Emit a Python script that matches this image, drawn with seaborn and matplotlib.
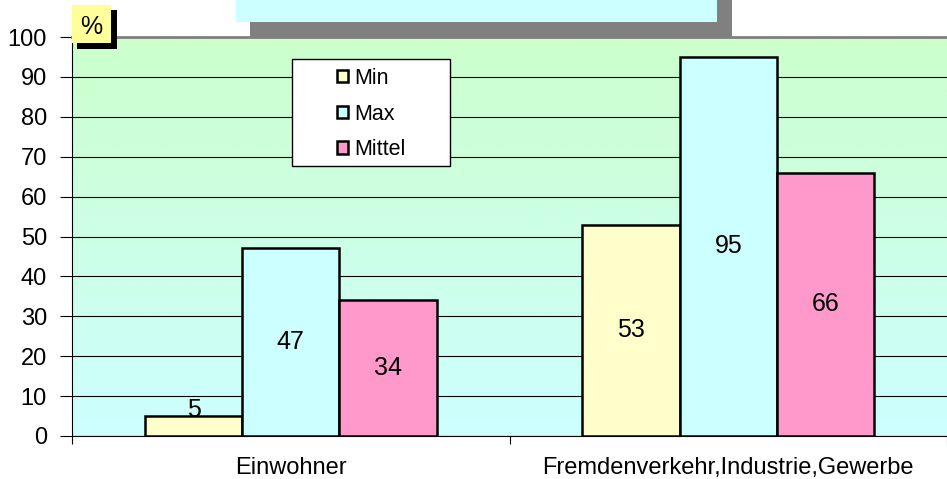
import matplotlib
matplotlib.use("Agg")
import matplotlib.pyplot as plt
import numpy as np
import pandas as pd
import seaborn as sns
from matplotlib.patches import Rectangle

# data
categories = ["Einwohner", "Fremdenverkehr,Industrie,Gewerbe"]
series = ["Min", "Max", "Mittel"]
min_vals = [5, 53]
max_vals = [47, 95]
mittel_vals = [34, 66]
colors = ["#FFFFCC", "#CCFFFF", "#FF99CC"]

df = pd.DataFrame({
    "Kategorie": categories * 3,
    "Serie": ["Min"] * 2 + ["Max"] * 2 + ["Mittel"] * 2,
    "Wert": min_vals + max_vals + mittel_vals,
})

sns.set_style("white")
plt.rcParams["font.family"] = ["Liberation Sans", "DejaVu Sans"]
plt.rcParams["text.color"] = "black"
plt.rcParams["xtick.color"] = "black"
plt.rcParams["ytick.color"] = "black"

fig = plt.figure(figsize=(9.47, 4.79), dpi=100)
ax = fig.add_axes([72 / 947, 43 / 479, 875 / 947, 399 / 479])

# gradient background green -> cyan
grad = np.linspace(0, 1, 256).reshape(-1, 1)
top = np.array([0xCC, 0xFF, 0xCC]) / 255
bot = np.array([0xCC, 0xFF, 0xFF]) / 255
img = top + (bot - top) * grad[:, :, None]
ax.imshow(img, extent=[-0.5, 1.5, 0, 100], aspect="auto", zorder=0)

sns.barplot(data=df, x="Kategorie", y="Wert", hue="Serie", hue_order=series,
            palette=colors, width=0.667, edgecolor="black", linewidth=1.8,
            saturation=1, ax=ax, zorder=3, legend=False)

ax.set_xlim(-0.5, 1.5)
ax.set_ylim(0, 100)
ax.set_yticks(range(0, 101, 10))
ax.yaxis.grid(True, color="black", linewidth=0.8)
for gl in ax.get_ygridlines():
    gl.set_zorder(1)
ax.set_xlabel("")
ax.set_ylabel("")

ax.tick_params(axis="y", left=True, length=9, width=0.8,
               labelsize=17, pad=9)
ax.tick_params(axis="x", which="major", length=0, labelsize=17, pad=15)
ax.set_xticks([-0.5, 0.5, 1.5], minor=True)
ax.tick_params(axis="x", which="minor", bottom=True, length=6, width=0.8)

ax.spines["right"].set_visible(False)
ax.spines["top"].set_color("#808080")
ax.spines["top"].set_linewidth(2)
ax.spines["left"].set_color("black")
ax.spines["bottom"].set_color("black")

# value labels in the middle of each bar
n = len(series)
bw = 0.667 / n
for j, vals in enumerate([min_vals, max_vals, mittel_vals]):
    for i, v in enumerate(vals):
        x = i - 0.667 / 2 + bw * (j + 0.5)
        ax.text(x, max(v / 2, 6.5), str(v), ha="center", va="center",
                fontsize=18, zorder=5)

# legend box
ax.add_patch(Rectangle((220 / 875, (436 - 166) / 399), 158 / 875, 107 / 399,
                       transform=ax.transAxes, facecolor="white",
                       edgecolor="black", linewidth=1, zorder=6))
handles = [Rectangle((0, 0), 1, 1, facecolor=c, edgecolor="black", linewidth=1.8)
           for c in colors]
leg = ax.legend(handles, series, loc="upper left",
                bbox_to_anchor=(265 / 875, (436 - 68) / 399), frameon=False,
                fontsize=15.5, handlelength=0.5, handleheight=0.5,
                handletextpad=0.3, labelspacing=0.68, borderpad=0,
                borderaxespad=0)
leg.set_zorder(7)

# empty title box with shadow
fig.patches.append(Rectangle((250 / 947, (479 - 37) / 479), 482 / 947, 37 / 479,
                             transform=fig.transFigure, facecolor="#808080",
                             edgecolor="none", zorder=8))
fig.patches.append(Rectangle((236 / 947, (479 - 22) / 479), 481 / 947, 22 / 479,
                             transform=fig.transFigure, facecolor="#CCFFFF",
                             edgecolor="none", zorder=9))

# "%" label box with shadow
fig.patches.append(Rectangle((77 / 947, (479 - 49) / 479), 40 / 947, 39 / 479,
                             transform=fig.transFigure, facecolor="black",
                             edgecolor="none", zorder=8))
fig.patches.append(Rectangle((72 / 947, (479 - 43) / 479), 39 / 947, 38 / 479,
                             transform=fig.transFigure, facecolor="#FFFF99",
                             edgecolor="none", zorder=9))
fig.text(91.5 / 947, (479 - 27) / 479, "%", ha="center", va="center",
         fontsize=18, zorder=10)

fig.savefig("out.png", dpi=100)
